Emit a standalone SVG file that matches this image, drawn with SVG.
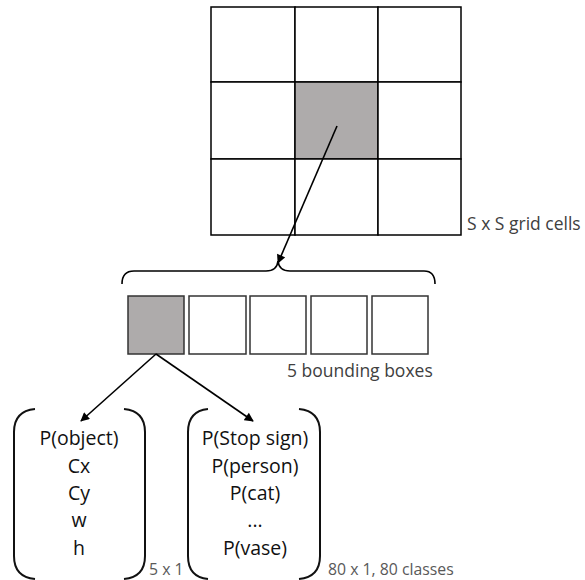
<svg xmlns="http://www.w3.org/2000/svg" width="585" height="580" viewBox="0 0 585 580">
<style>
.cell{fill:#fff;stroke:#000;stroke-width:1.5}
.box{fill:#fff;stroke:#333;stroke-width:1.5}
.hl{fill:#aeabab}
.ln{fill:none;stroke:#000;stroke-width:1.6}
.br{fill:none;stroke:#111;stroke-width:2}
.t{font-family:"Open Sans","Liberation Sans",sans-serif;font-size:19.5px;fill:#111;text-anchor:middle}
.lb{font-family:"Open Sans","Liberation Sans",sans-serif;font-size:17.5px;fill:#404040}
.sm{font-family:"Open Sans","Liberation Sans",sans-serif;font-size:15.8px;fill:#595959}
</style>
<defs>
<marker id="ah" viewBox="0 0 10 10" refX="9" refY="5" markerWidth="10" markerHeight="9" markerUnits="userSpaceOnUse" orient="auto">
<path d="M0,0 L10,5 L0,10 z" fill="#000"/>
</marker>
</defs>
<g id="grid">
<rect class="cell" x="211" y="7" width="84" height="75"/>
<rect class="cell" x="295" y="7" width="83" height="75"/>
<rect class="cell" x="378" y="7" width="83" height="75"/>
<rect class="cell" x="211" y="82" width="84" height="77"/>
<rect class="cell hl" x="295" y="82" width="83" height="77"/>
<rect class="cell" x="378" y="82" width="83" height="77"/>
<rect class="cell" x="211" y="159" width="84" height="76"/>
<rect class="cell" x="295" y="159" width="83" height="76"/>
<rect class="cell" x="378" y="159" width="83" height="76"/>
<text class="lb" x="467" y="230">S x S grid cells</text>
</g>
<g id="brace">
<path class="ln" d="M122,284 Q122,271 134,271 L266,271 Q277,271 278,261 Q279,271 290,271 L424,271 Q435,271 435,284"/>
</g>
<g id="boxes">
<rect class="box hl" x="128" y="296" width="56" height="58"/>
<rect class="box" x="189" y="296" width="57" height="58"/>
<rect class="box" x="250" y="296" width="56" height="58"/>
<rect class="box" x="311" y="296" width="56" height="58"/>
<rect class="box" x="372" y="296" width="56" height="58"/>
<text class="lb" x="287" y="377">5 bounding boxes</text>
</g>
<g id="vec-box">
<path class="br" d="M35,409 Q14,411 14,432 L14,556 Q14,577 35,579"/>
<path class="br" d="M124,409 Q145,411 145,432 L145,556 Q145,577 124,579"/>
<text class="t" x="79" y="445">P(object)</text>
<text class="t" x="79" y="473">Cx</text>
<text class="t" x="79" y="500">Cy</text>
<text class="t" x="79" y="527">w</text>
<text class="t" x="79" y="555">h</text>
<text class="sm" x="149" y="575">5 x 1</text>
</g>
<g id="vec-class">
<path class="br" d="M208,409 Q188,411 188,432 L188,556 Q188,577 208,579"/>
<path class="br" d="M299,409 Q320,411 320,432 L320,556 Q320,577 299,579"/>
<text class="t" x="255" y="445">P(Stop sign)</text>
<text class="t" x="255" y="473">P(person)</text>
<text class="t" x="255" y="500">P(cat)</text>
<text class="t" x="255" y="527">...</text>
<text class="t" x="255" y="555">P(vase)</text>
<text class="sm" x="328" y="575">80 x 1, 80 classes</text>
</g>
<g id="connectors">
<line class="ln" x1="337" y1="126" x2="278" y2="263" marker-end="url(#ah)"/>
<line class="ln" x1="156" y1="354" x2="81" y2="421" marker-end="url(#ah)"/>
<line class="ln" x1="156" y1="354" x2="253" y2="421" marker-end="url(#ah)"/>
</g>
</svg>
